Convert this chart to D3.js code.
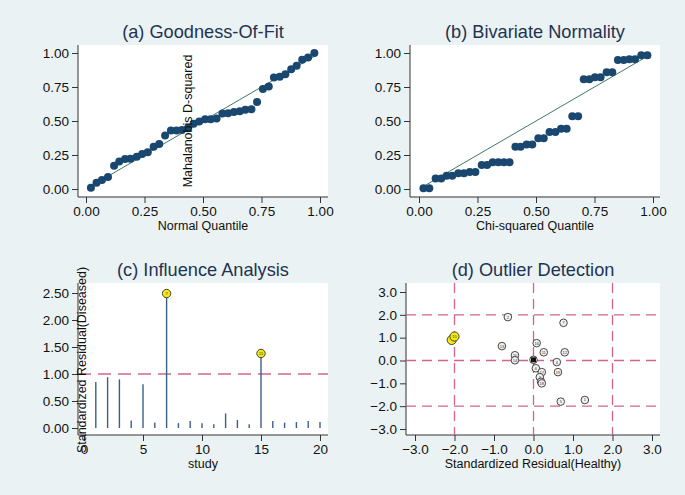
<!DOCTYPE html>
<html>
<head>
<meta charset="utf-8">
<script src="https://cdn.jsdelivr.net/npm/d3@7"></script>
<style>
  body { margin: 0; background: #eaf2f3; }
  svg { display: block; font-family: "Liberation Sans", Arial, sans-serif; }
</style>
</head>
<body>
<div id="chart"></div>
<script>
// (a) goodness of fit: normal quantile vs Mahalanobis D-squared
const fitX = [0.021, 0.045, 0.068, 0.094, 0.120, 0.142, 0.167, 0.190, 0.217, 0.240,
              0.264, 0.289, 0.313, 0.338, 0.363, 0.387, 0.410, 0.435, 0.460, 0.484,
              0.509, 0.533, 0.558, 0.583, 0.607, 0.632, 0.657, 0.681, 0.707, 0.731,
              0.756, 0.781, 0.803, 0.828, 0.852, 0.877, 0.900, 0.924, 0.949, 0.976];
const fitY = [0.010, 0.046, 0.066, 0.088, 0.171, 0.203, 0.220, 0.222, 0.237, 0.257,
              0.271, 0.310, 0.330, 0.394, 0.430, 0.430, 0.433, 0.447, 0.480, 0.496,
              0.513, 0.513, 0.518, 0.555, 0.557, 0.567, 0.572, 0.582, 0.587, 0.640,
              0.736, 0.753, 0.819, 0.826, 0.843, 0.880, 0.907, 0.951, 0.966, 1.000];

// (b) bivariate normality: chi-squared quantile
const chiX = [0.019, 0.044, 0.071, 0.095, 0.118, 0.142, 0.168, 0.192, 0.217, 0.241,
              0.268, 0.291, 0.315, 0.339, 0.363, 0.387, 0.412, 0.434, 0.460, 0.484,
              0.510, 0.533, 0.558, 0.583, 0.607, 0.631, 0.655, 0.680, 0.704, 0.728,
              0.752, 0.776, 0.802, 0.826, 0.850, 0.875, 0.899, 0.923, 0.950, 0.976];
const chiY = [0.005, 0.005, 0.078, 0.078, 0.098, 0.098, 0.115, 0.115, 0.125, 0.125,
              0.176, 0.176, 0.196, 0.196, 0.196, 0.196, 0.310, 0.310, 0.328, 0.328,
              0.374, 0.374, 0.420, 0.420, 0.443, 0.443, 0.535, 0.535, 0.807, 0.807,
              0.822, 0.822, 0.858, 0.858, 0.949, 0.949, 0.954, 0.954, 0.983, 0.983];

// (c) influence analysis
const studies   = [1, 2, 3, 4, 5, 6, 7, 8, 9, 10, 11, 12, 13, 14, 15, 16, 17, 18, 19, 20];
const influence = [0.85, 0.94, 0.90, 0.14, 0.81, 0.10, 2.49, 0.09, 0.13, 0.09,
                   0.07, 0.27, 0.15, 0.07, 1.38, 0.13, 0.10, 0.11, 0.13, 0.11];
const influential = [7, 15];

// (d) outlier detection
const outLabel   = [2, 7, 13, 16, 20, 14, 11, 12, 8, 4, 6, 17, 19, 3, 10, 18, 5, 1, 9, 15];
const residHealthy  = [-0.65, 0.76, -0.80, 0.08, -0.47, -0.47, 0.26, 0.79, 0.00, 0.59,
                        0.06, 0.21, 0.62, 0.16, 0.19, 0.21, 0.69, 1.30, -2.07, -2.00];
const residDiseased = [1.90, 1.65, 0.63, 0.76, 0.23, 0.01, 0.36, 0.36, 0.03, -0.07,
                       -0.34, -0.51, -0.51, -0.73, -0.93, -1.00, -1.80, -1.73, 0.90, 1.05];
const outlierFlag = [9, 15];

const unitTicks = [0, 0.25, 0.5, 0.75, 1];
const inflTicks = [0, 0.5, 1, 1.5, 2, 2.5];
const studyTicks = [0, 5, 10, 15, 20];
const residTicks = [-3, -2, -1, 0, 1, 2, 3];

const W = 685, H = 495;
const navy = '#1a476f', green = '#3f7a66', pink = '#d2668a', titleCol = '#1f3352';

const svg = d3.select('#chart').append('svg').attr('width', W).attr('height', H);
svg.append('rect').attr('width', W).attr('height', H).attr('fill', '#eaf2f3');

function panel(box, xs, ys, xTicks, yTicks, xFmt, yFmt, title, xTitle) {
  const g = svg.append('g');
  g.append('rect')
    .attr('x', box.l).attr('y', box.t)
    .attr('width', box.r - box.l).attr('height', box.b - box.t)
    .attr('fill', '#fff');

  const xAxis = g.append('g').attr('transform', `translate(0,${box.b})`)
    .call(d3.axisBottom(xs).tickValues(xTicks).tickFormat(xFmt).tickSize(6).tickSizeOuter(0));
  xAxis.select('.domain').attr('d', `M${box.l},0H${box.r}`);
  const yAxis = g.append('g').attr('transform', `translate(${box.l},0)`)
    .call(d3.axisLeft(ys).tickValues(yTicks).tickFormat(yFmt).tickSize(6).tickSizeOuter(0));
  yAxis.select('.domain').attr('d', `M0,${box.t}V${box.b}`);
  g.selectAll('.domain, .tick line').attr('stroke', '#333').attr('stroke-width', 1);
  g.selectAll('.tick text').attr('font-size', 13.5).attr('fill', '#111')
    .attr('font-family', '"Liberation Sans", Arial, sans-serif');

  const cx = (box.l + box.r) / 2;
  g.append('text').attr('x', cx).attr('y', box.t - 7)
    .attr('text-anchor', 'middle').attr('font-size', 18.2).attr('fill', titleCol).text(title);
  g.append('text').attr('x', cx).attr('y', box.b + 33)
    .attr('text-anchor', 'middle').attr('font-size', 12.5).attr('fill', '#111').text(xTitle);
  return g;
}

const f2 = d3.format('.2f'), f1 = d3.format('.1f');

// ---- (a)
const boxA = {l: 78, r: 328, t: 45, b: 197};
const xa = d3.scaleLinear().domain([0, 1]).range([86, 320]);
const ya = d3.scaleLinear().domain([0, 1]).range([189, 53]);
const gA = panel(boxA, xa, ya, unitTicks, unitTicks, f2, f2, '(a) Goodness-Of-Fit', 'Normal Quantile');
gA.append('line')
  .attr('x1', xa(d3.min(fitX))).attr('y1', ya(d3.min(fitX)))
  .attr('x2', xa(d3.max(fitX))).attr('y2', ya(d3.max(fitX)))
  .attr('stroke', green).attr('stroke-width', 1);
gA.selectAll('circle.pt').data(fitX).join('circle')
  .attr('cx', d => xa(d)).attr('cy', (d, i) => ya(fitY[i])).attr('r', 4).attr('fill', navy);
gA.append('text')
  .attr('transform', `translate(${192},${121}) rotate(-90)`)
  .attr('text-anchor', 'middle').attr('font-size', 12.5).attr('fill', '#111')
  .text('Mahalanobis D-squared');

// ---- (b)
const boxB = {l: 410, r: 660, t: 45, b: 197};
const xb = d3.scaleLinear().domain([0, 1]).range([419, 653]);
const yb = d3.scaleLinear().domain([0, 1]).range([189, 53]);
const gB = panel(boxB, xb, yb, unitTicks, unitTicks, f2, f2, '(b) Bivariate Normality', 'Chi-squared Quantile');
gB.append('line')
  .attr('x1', xb(d3.min(chiX))).attr('y1', yb(d3.min(chiX)))
  .attr('x2', xb(d3.max(chiX))).attr('y2', yb(d3.max(chiX)))
  .attr('stroke', green).attr('stroke-width', 1);
gB.selectAll('circle.pt').data(chiX).join('circle')
  .attr('cx', d => xb(d)).attr('cy', (d, i) => yb(chiY[i])).attr('r', 4).attr('fill', navy);

// ---- (c)
const boxC = {l: 78, r: 328, t: 283, b: 435};
const xc = d3.scaleLinear().domain([0, 20]).range([84, 320]);
const yc = d3.scaleLinear().domain([0, 2.5]).range([428, 293]);
const gC = panel(boxC, xc, yc, studyTicks, inflTicks, d3.format('d'), f2, '(c) Influence Analysis', 'study');
gC.append('line')
  .attr('x1', boxC.l).attr('x2', boxC.r).attr('y1', yc(1)).attr('y2', yc(1))
  .attr('stroke', pink).attr('stroke-width', 1.5).attr('stroke-dasharray', '13,7');
gC.selectAll('line.stem').data(studies).join('line').attr('class', 'stem')
  .attr('x1', d => xc(d)).attr('x2', d => xc(d))
  .attr('y1', yc(0)).attr('y2', (d, i) => yc(influence[i]))
  .attr('stroke', '#3b6088').attr('stroke-width', 1.4);
const flagC = studies.filter(s => influential.includes(s));
gC.selectAll('circle.flag').data(flagC).join('circle')
  .attr('cx', d => xc(d)).attr('cy', d => yc(influence[d - 1])).attr('r', 4.2)
  .attr('fill', '#f3e812').attr('stroke', '#333').attr('stroke-width', 0.9);
gC.selectAll('text.flag').data(flagC).join('text')
  .attr('x', d => xc(d)).attr('y', d => yc(influence[d - 1]) + 1.4)
  .attr('text-anchor', 'middle').attr('font-size', 4).attr('fill', '#333').text(d => d);
gC.append('text')
  .attr('transform', `translate(${86},${360}) rotate(-90)`)
  .attr('text-anchor', 'middle').attr('font-size', 12.5).attr('fill', '#111')
  .text('Standardized Residual(Diseased)');

// ---- (d)
const boxD = {l: 406, r: 660, t: 283, b: 435};
const xd = d3.scaleLinear().domain([-3, 3]).range([415, 652]);
const yd = d3.scaleLinear().domain([-3, 3]).range([429, 292]);
const gD = panel(boxD, xd, yd, residTicks, residTicks, f1, f1, '(d) Outlier Detection', 'Standardized Residual(Healthy)');
const refs = [-2, 0, 2];
gD.selectAll('line.vref').data(refs).join('line')
  .attr('x1', d => xd(d)).attr('x2', d => xd(d)).attr('y1', boxD.t).attr('y2', boxD.b)
  .attr('stroke', pink).attr('stroke-width', 1.3).attr('stroke-dasharray', '10,6');
gD.selectAll('line.href').data(refs).join('line')
  .attr('y1', d => yd(d)).attr('y2', d => yd(d)).attr('x1', boxD.l).attr('x2', boxD.r)
  .attr('stroke', pink).attr('stroke-width', 1.3).attr('stroke-dasharray', '10,6');
const pts = outLabel.map((lab, i) => ({lab, x: residHealthy[i], y: residDiseased[i], flag: outlierFlag.includes(lab)}));
const ptG = gD.selectAll('g.pt').data(pts).join('g')
  .attr('transform', d => `translate(${xd(d.x)},${yd(d.y)})`);
ptG.append('circle').attr('r', d => d.flag ? 4.6 : 3.8)
  .attr('fill', d => d.flag ? '#f3e812' : '#f2f2f2')
  .attr('stroke', '#333').attr('stroke-width', 0.9);
ptG.append('text').attr('y', 1.4).attr('text-anchor', 'middle')
  .attr('font-size', 4).attr('fill', '#333').text(d => d.lab);
// summary point
gD.append('rect')
  .attr('x', xd(0) - 2.5).attr('y', yd(0.03) - 2.5).attr('width', 5).attr('height', 5)
  .attr('fill', '#111');
</script>
</body>
</html>
